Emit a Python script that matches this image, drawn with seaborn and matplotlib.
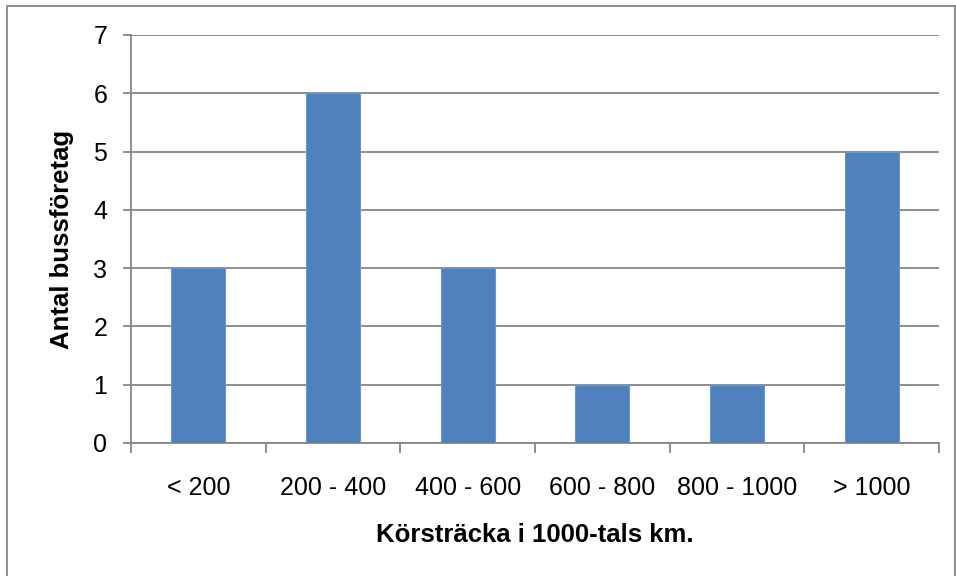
import matplotlib
matplotlib.use("Agg")
import matplotlib.pyplot as plt
from matplotlib.patches import Rectangle
import seaborn as sns
import pandas as pd
import numpy as np

categories = ["< 200", "200 - 400", "400 - 600", "600 - 800", "800 - 1000", "> 1000"]
counts = [3, 6, 3, 1, 1, 5]
y_ticks = [0, 1, 2, 3, 4, 5, 6, 7]

df = pd.DataFrame({"cat": categories, "n": counts})

sns.set_style("white")
plt.rcParams["font.family"] = ["Liberation Sans", "DejaVu Sans"]
plt.rcParams["text.color"] = "black"
plt.rcParams["axes.labelcolor"] = "black"
plt.rcParams["xtick.color"] = "black"
plt.rcParams["ytick.color"] = "black"

W, H = 956, 576
fig = plt.figure(figsize=(W / 100, H / 100), dpi=100)
ax = fig.add_axes([131 / W, 1 - 443 / H, (939 - 131) / W, (443 - 35) / H])

grid_col = "#868686"
sns.barplot(data=df, x="cat", y="n", color="#4F81BD", width=0.4, saturation=1,
            ax=ax, zorder=3, edgecolor="#6E95C8", linewidth=0.8)
ax.set_xlim(-0.5, len(categories) - 0.5)
ax.set_ylim(0, 7)
ax.set_yticks(y_ticks)
ax.yaxis.grid(True, color=grid_col, linewidth=1.3, zorder=0)
ax.set_axisbelow(True)

for s in ["top", "right"]:
    ax.spines[s].set_visible(False)
for s in ["left", "bottom"]:
    ax.spines[s].set_color(grid_col)
    ax.spines[s].set_linewidth(1.3)

ax.tick_params(axis="y", left=True, length=6, width=1.3, color=grid_col,
               labelcolor="black", pad=11, labelsize=18)
ax.tick_params(axis="x", which="major", bottom=True, length=0, pad=24,
               labelsize=18, labelcolor="black")
ax.set_xticks(np.arange(-0.5, len(categories), 1.0), minor=True)
ax.tick_params(axis="x", which="minor", bottom=True, length=7, width=1.3, color=grid_col)

ax.set_xlabel("Körsträcka i 1000-tals km.", fontsize=18.5, fontweight="bold",
              labelpad=16, color="black")
ax.set_ylabel("Antal bussföretag", fontsize=18.5, fontweight="bold",
              labelpad=14, color="black")

fig.patches.append(Rectangle((7 / W, -5 / H), (955 - 7) / W, (570 + 5) / H,
                             transform=fig.transFigure, fill=False,
                             edgecolor=grid_col, linewidth=1.3))

fig.savefig("out.png", dpi=100)
